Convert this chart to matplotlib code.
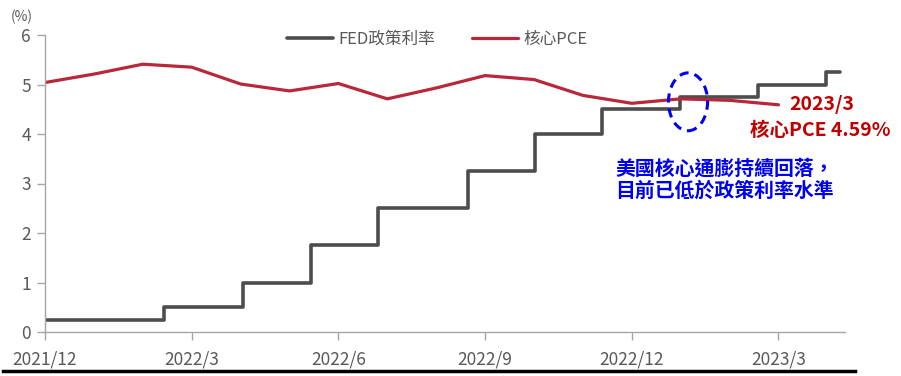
import matplotlib
matplotlib.use("Agg")
import matplotlib.pyplot as plt
from matplotlib.patches import Ellipse
from matplotlib.lines import Line2D

plt.rcParams['font.family'] = ['Noto Sans CJK TC', 'DejaVu Sans']

# months counted from 2021/12 (0) on the x axis
tick_pos = [0, 3, 6, 9, 12, 15]
tick_labels = ['2021/12', '2022/3', '2022/6', '2022/9', '2022/12', '2023/3']

# core PCE, monthly
pce_x = list(range(16))
pce_y = [5.04, 5.21, 5.41, 5.35, 5.01, 4.87, 5.02, 4.71, 4.93, 5.18, 5.10, 4.78, 4.62, 4.71, 4.68, 4.59]

# FED policy rate (upper bound), step changes
fed_x = [0, 2.43, 4.05, 5.44, 6.81, 8.65, 10.02, 11.39, 12.99, 14.58, 15.97, 16.26]
fed_y = [0.25, 0.5, 1.0, 1.75, 2.5, 3.25, 4.0, 4.5, 4.75, 5.0, 5.25, 5.25]

GRAY = '#595959'
RED = '#B8283A'
DARKRED = '#C00000'
BLUE = '#0000F0'

fig = plt.figure(figsize=(9.01, 3.76), dpi=100)
ax = fig.add_axes([45/901, 44/376, 800/901, 297/376])

ax.step(fed_x, fed_y, where='post', color='#4D4D4D', lw=2.6, label='FED政策利率',
        solid_capstyle='round')
ax.plot(pce_x, pce_y, color=RED, lw=2.3, label='核心PCE', solid_capstyle='round')

ax.set_xlim(0, 16.36)
ax.set_ylim(0, 6)
ax.set_yticks(range(7))
ax.set_xticks(tick_pos)
ax.set_xticklabels(tick_labels)

for s in ['top', 'right']:
    ax.spines[s].set_visible(False)
for s in ['left', 'bottom']:
    ax.spines[s].set_color('#A6A6A6')
    ax.spines[s].set_linewidth(1.0)
ax.tick_params(axis='both', colors='#A6A6A6', labelcolor=GRAY, length=6, width=1.0,
               labelsize=12.5)
ax.tick_params(axis='x', pad=7)
ax.tick_params(axis='y', pad=4)

fig.text(22/901, 1 - 17/376, '(%)', color=GRAY, fontsize=10, ha='center', va='center')

leg = ax.legend(loc='center', bbox_to_anchor=(0.49, (332 - 39) / 297), ncol=2,
                frameon=False, fontsize=12, handlelength=2.8, columnspacing=2.2,
                handletextpad=0.3)
for t in leg.get_texts():
    t.set_color(GRAY)

# annotations
ax.text(15.88, 4.59, '2023/3', color=DARKRED, fontsize=14, fontweight='bold',
        ha='center', va='center')
ax.text(17.3, 4.08, '核心PCE 4.59%', color=DARKRED, fontsize=14, fontweight='bold',
        ha='right', va='center')
ax.text(11.66, 3.31, '美國核心通膨持續回落，', color=BLUE, fontsize=14.3,
        fontweight='bold', ha='left', va='center')
ax.text(11.66, 2.87, '目前已低於政策利率水準', color=BLUE, fontsize=14.3,
        fontweight='bold', ha='left', va='center')

ax.add_patch(Ellipse((13.15, 4.65), 0.80, 1.17, fill=False, edgecolor=BLUE,
                     lw=2.2, ls=(0, (3, 2)), zorder=5))

fig.add_artist(Line2D([3/901, 855/901], [5/376, 5/376], color='black', lw=2.5))

fig.savefig('out.png', dpi=100)
